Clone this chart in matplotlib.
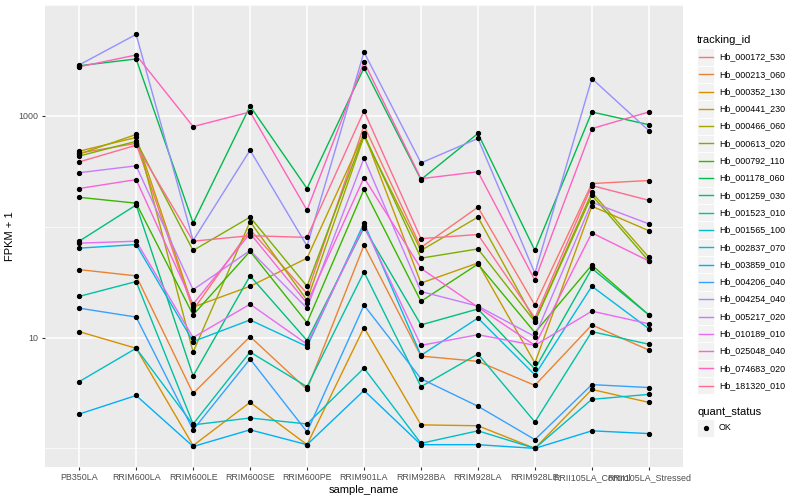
import matplotlib
matplotlib.use("Agg")
import matplotlib.pyplot as plt
from matplotlib.lines import Line2D
from matplotlib.patches import Rectangle
from matplotlib.ticker import NullFormatter

plt.rcParams["font.family"] = ["Liberation Sans", "DejaVu Sans"]

samples = ["PB350LA", "RRIM600LA", "RRIM600LE", "RRIM600SE", "RRIM600PE",
           "RRIM901LA", "RRIM928BA", "RRIM928LA", "RRIM928LE",
           "RRII105LA_Control", "RRII105LA_Stressed"]

tracking_ids = ["Hb_000172_530", "Hb_000213_060", "Hb_000352_130", "Hb_000441_230",
                "Hb_000466_060", "Hb_000613_020", "Hb_000792_110", "Hb_001178_060",
                "Hb_001259_030", "Hb_001523_010", "Hb_001565_100", "Hb_002837_070",
                "Hb_003859_010", "Hb_004206_040", "Hb_004254_040", "Hb_005217_020",
                "Hb_010189_010", "Hb_025048_040", "Hb_074683_020", "Hb_181320_010"]

colors = ["#F8766D", "#EA8331", "#D89000", "#C09B00", "#A3A500", "#7CAE00",
          "#39B600", "#00BB4E", "#00BF7D", "#00C1A3", "#00BFC4", "#00BAE0",
          "#00B0F6", "#35A2FF", "#9590FF", "#C77CFF", "#E76BF3", "#FA62DB",
          "#FF62BC", "#FF6C91"]

# FPKM + 1 per sample, one list per tracking_id (same order as samples)
fpkm = [
    [461, 565, 17.7, 94, 25, 816, 65, 150, 19.6, 245, 261],
    [41, 36, 3.13, 10.2, 3.4, 68, 6.8, 6.1, 3.7, 13, 7.7],
    [11.3, 8.0, 1.06, 2.6, 1.08, 12.3, 1.63, 1.6, 1.0, 3.4, 2.6],
    [480, 638, 18.8, 29, 52, 693, 31, 47, 5.9, 153, 92],
    [452, 679, 7.4, 111, 21.7, 652, 61, 122, 14.1, 204, 53],
    [434, 589, 61, 122, 29, 679, 52, 63, 13.9, 192, 49],
    [184, 163, 16, 60, 13.6, 217, 21.2, 46, 11.1, 45, 16],
    [2830, 3260, 108, 1225, 221, 2710, 266, 693, 61, 1084, 832],
    [74, 157, 4.5, 36, 9.4, 98, 13, 18.1, 5.2, 42, 16],
    [23.5, 32, 1.66, 7.4, 3.6, 39, 3.6, 7.1, 1.73, 11.3, 8.7],
    [4.0, 8.0, 1.63, 1.88, 1.66, 5.3, 1.11, 1.44, 1.0, 2.77, 3.07],
    [64, 69, 9.2, 14.4, 8.3, 108, 6.9, 15, 4.6, 29, 12],
    [2.04, 3.0, 1.04, 1.47, 1.08, 3.33, 1.08, 1.08, 1.0, 1.44, 1.36],
    [18.4, 15.3, 1.47, 6.4, 1.41, 19.6, 4.25, 2.4, 1.2, 3.76, 3.54],
    [2880, 5430, 75, 490, 67, 3760, 376, 625, 38, 2170, 736],
    [307, 354, 27, 61, 18.4, 416, 26, 19.2, 10.2, 166, 106],
    [71, 74, 10, 20, 8.7, 102, 8.5, 10.6, 8.5, 17.3, 13.3],
    [221, 266, 20, 87, 20.4, 277, 42, 18.8, 8.5, 88, 49],
    [2770, 3540, 800, 1084, 141, 3070, 271, 313, 33, 767, 1084],
    [384, 543, 74, 83, 80, 1107, 78, 85, 15, 235, 173],
]

W, H = 800, 500
fig = plt.figure(figsize=(W / 100, H / 100), dpi=100)
ax = fig.add_axes([45 / W, 1 - 467 / H, (683 - 45) / W, (467 - 5) / H])
ax.set_facecolor("#EBEBEB")

x = list(range(len(samples)))
for vals, col in zip(fpkm, colors):
    ax.plot(x, vals, color=col, lw=1.0, zorder=2)
for vals in fpkm:
    ax.plot(x, vals, ls="none", marker="o", ms=2.8, color="black", zorder=3)

ax.set_yscale("log")
ax.set_ylim(10 ** -0.168, 10 ** 3.92)
ax.set_xlim(-0.6, len(samples) - 0.4)
ax.set_yticks([10, 1000])
ax.set_yticklabels(["10", "1000"])
ax.set_yticks([1, 100, 10000], minor=True)
ax.yaxis.set_minor_formatter(NullFormatter())
ax.set_xticks(x)
ax.set_xticklabels(samples)
ax.grid(True, which="major", color="white", lw=1.1, zorder=0)
ax.grid(True, which="minor", axis="y", color="white", lw=0.5, zorder=0)
ax.set_axisbelow(True)
for s in ax.spines.values():
    s.set_visible(False)
ax.tick_params(which="major", length=2.5, width=0.8, color="#333333",
               labelcolor="#4D4D4D", labelsize=6.4, pad=2)
ax.tick_params(which="minor", length=0)
ax.set_xlabel("sample_name", fontsize=8, labelpad=2)
ax.set_ylabel("FPKM + 1", fontsize=8, labelpad=3)

# legend drawn in figure pixels, ggplot style
def fx(px):
    return px / W


def fy(py):
    return 1 - py / H


fig.text(fx(697), fy(40), "tracking_id", fontsize=8, va="center", ha="left")
step = 17.3
for i, (tid, col) in enumerate(zip(tracking_ids, colors)):
    yc = 57 + step * i
    fig.add_artist(Rectangle((fx(697), fy(yc + step / 2)), 17.3 / W, step / H,
                             transform=fig.transFigure, facecolor="#F2F2F2",
                             edgecolor="white", lw=0.6))
    fig.add_artist(Line2D([fx(699), fx(712.5)], [fy(yc), fy(yc)],
                          transform=fig.transFigure, color=col, lw=1.0))
    fig.text(fx(719), fy(yc), tid, fontsize=6.4, va="center", ha="left")

fig.text(fx(697), fy(412), "quant_status", fontsize=8, va="center", ha="left")
fig.add_artist(Rectangle((fx(697), fy(428 + step / 2)), 17.3 / W, step / H,
                         transform=fig.transFigure, facecolor="#F2F2F2",
                         edgecolor="white", lw=0.6))
fig.add_artist(Line2D([fx(705.6)], [fy(428)], transform=fig.transFigure,
                      ls="none", marker="o", ms=2.8, color="black"))
fig.text(fx(719), fy(428), "OK", fontsize=6.4, va="center", ha="left")

fig.savefig("out.png", dpi=100)
